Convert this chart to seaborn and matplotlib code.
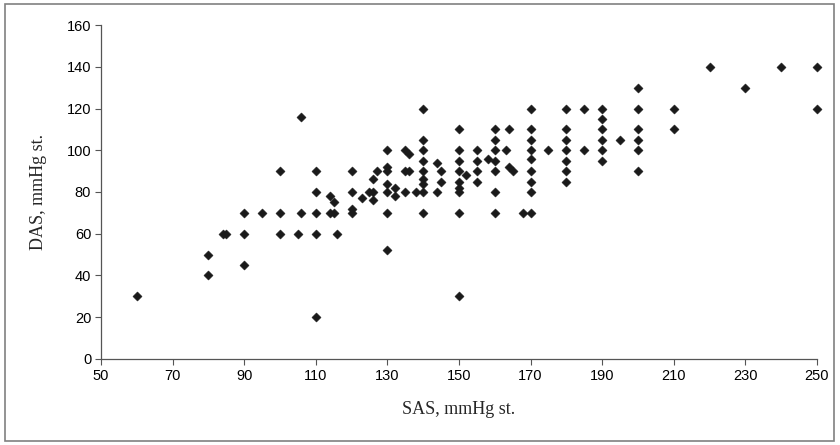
import numpy as np
import pandas as pd
import seaborn as sns
import matplotlib.pyplot as plt
from matplotlib.patches import Rectangle

# SAS / DAS readings (mmHg st.)
sas = [60, 80, 80, 84, 85, 90, 90, 90, 95, 100, 100, 100,
       105, 106, 106, 110, 110, 110, 110, 110,
       114, 114, 115, 115, 116, 120, 120, 120, 120,
       123, 125, 126, 126, 126, 127,
       130, 130, 130, 130, 130, 130, 130, 132, 132,
       135, 136, 135, 136, 135, 138,
       140, 140, 140, 140, 140, 140, 140, 140, 140,
       144, 145, 145, 144,
       150, 150, 150, 150, 150, 150, 150, 150, 150, 152,
       155, 155, 155, 155, 158,
       160, 160, 160, 160, 160, 160, 160,
       163, 164, 164, 165, 168,
       170, 170, 170, 170, 170, 170, 170, 170, 170, 175,
       180, 180, 180, 180, 180, 180, 180, 185, 185,
       190, 190, 190, 190, 190, 190, 195,
       200, 200, 200, 200, 200, 200, 210, 210,
       220, 230, 240, 250, 250]
das = [30, 50, 40, 60, 60, 70, 60, 45, 70, 90, 70, 60,
       60, 70, 116, 90, 80, 70, 60, 20,
       78, 70, 75, 70, 60, 90, 80, 72, 70,
       77, 80, 80, 76, 86, 90,
       100, 92, 90, 84, 80, 70, 52, 82, 78,
       100, 98, 90, 90, 80, 80,
       120, 105, 100, 95, 90, 86, 84, 80, 70,
       94, 90, 85, 80,
       110, 100, 95, 90, 85, 82, 80, 70, 30, 88,
       100, 95, 90, 85, 96,
       110, 105, 100, 95, 90, 80, 70,
       100, 110, 92, 90, 70,
       120, 110, 105, 100, 96, 90, 85, 80, 70, 100,
       120, 110, 105, 100, 95, 90, 85, 120, 100,
       120, 115, 110, 105, 100, 95, 105,
       130, 120, 110, 105, 100, 90, 120, 110,
       140, 130, 140, 140, 120]

x_ticks = [50, 70, 90, 110, 130, 150, 170, 190, 210, 230, 250]
y_ticks = [0, 20, 40, 60, 80, 100, 120, 140, 160]

df = pd.DataFrame({'SAS': sas, 'DAS': das})

sns.set_style('white')
plt.rcParams['font.family'] = ['Liberation Sans', 'DejaVu Sans']

fig = plt.figure(figsize=(8.4, 4.45), dpi=100)
ax = fig.add_axes([0.1202, 0.1933, 0.8524, 0.7505])

sns.scatterplot(x='SAS', y='DAS', data=df, ax=ax, marker='D', s=22,
                color='#1a1a1a', edgecolor='#1a1a1a', linewidth=0.3,
                clip_on=False, zorder=3)

ax.set_xlim(50, 250)
ax.set_ylim(0, 160)
ax.set_xticks(x_ticks)
ax.set_yticks(y_ticks)
ax.tick_params(axis='both', direction='out', length=4, width=0.8,
               color='#555555', labelsize=10.5, labelcolor='black', pad=3, bottom=True, left=True)
sns.despine(ax=ax)
for s in ['left', 'bottom']:
    ax.spines[s].set_color('#555555')
    ax.spines[s].set_linewidth(0.9)

ax.set_xlabel('SAS, mmHg st.', family=['Liberation Serif', 'DejaVu Serif'], fontsize=13, labelpad=13)
ax.set_ylabel('DAS, mmHg st.', family=['Liberation Serif', 'DejaVu Serif'], fontsize=13, labelpad=14)

fig.patches.append(Rectangle((0.006, 0.009), 0.987, 0.982, transform=fig.transFigure,
                             fill=False, edgecolor='#808080', linewidth=1.2))

fig.savefig('out.png', dpi=100)
